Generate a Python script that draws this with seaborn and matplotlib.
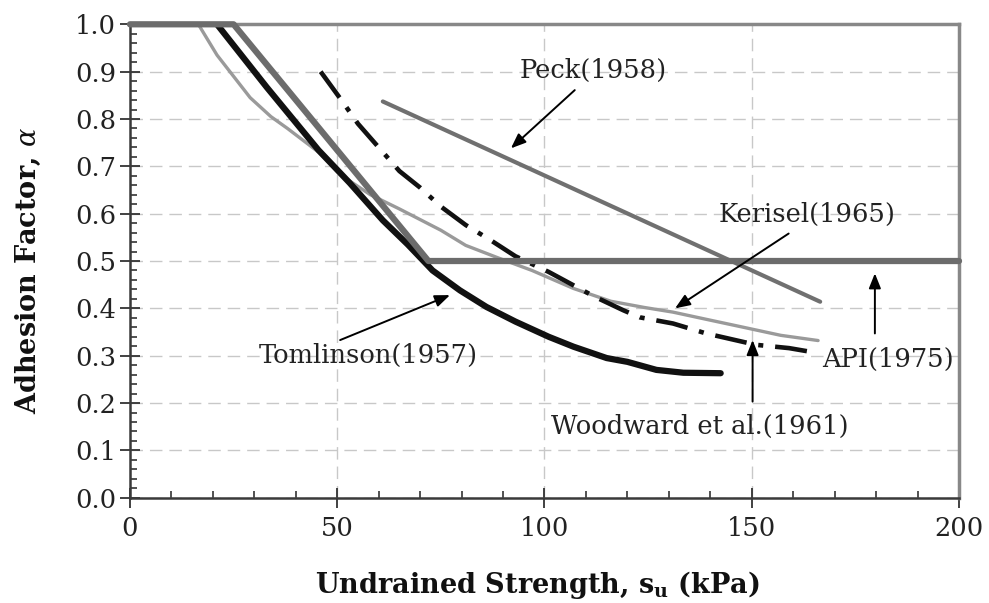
import matplotlib
matplotlib.use("Agg")
import matplotlib.pyplot as plt
import seaborn as sns
from matplotlib.ticker import MultipleLocator

sns.set_theme(style="white")
plt.rcParams['font.family'] = ['DejaVu Serif']
plt.rcParams['mathtext.fontset'] = 'dejavuserif'

# curves (su in kPa, alpha)
api_su = [0, 25, 72, 200]
api_alpha = [1.0, 1.0, 0.5, 0.5]

peck_su = [61, 166.5]
peck_alpha = [0.837, 0.414]

tomlinson_su = [21, 33, 45.5, 53, 61, 67, 73, 79.6, 86, 93, 101, 107, 115, 120, 127, 133.5, 142.5]
tomlinson_alpha = [1.0, 0.867, 0.734, 0.665, 0.586, 0.535, 0.48, 0.438, 0.403, 0.372, 0.34, 0.319, 0.295, 0.287, 0.27, 0.264, 0.263]

kerisel_su = [16.5, 21, 25, 29, 34, 38, 45.5, 52, 58, 65, 75, 81, 89, 97, 107, 116, 124, 131, 140, 148, 157, 166]
kerisel_alpha = [1.0, 0.935, 0.89, 0.845, 0.805, 0.78, 0.73, 0.675, 0.64, 0.61, 0.565, 0.533, 0.506, 0.48, 0.442, 0.415, 0.402, 0.392, 0.375, 0.36, 0.343, 0.332]

woodward_su = [46, 51, 55, 60, 65, 70, 75, 81, 87, 93, 101, 112, 119, 123, 131, 139, 145, 151, 159, 165]
woodward_alpha = [0.9, 0.84, 0.79, 0.74, 0.69, 0.655, 0.615, 0.576, 0.544, 0.51, 0.477, 0.425, 0.396, 0.381, 0.368, 0.347, 0.335, 0.323, 0.316, 0.307]

fig = plt.figure(figsize=(9.89, 6.03), dpi=100)
ax = fig.add_axes([0.1314, 0.1746, 0.8383, 0.7851])

ax.grid(True, which='major', color='#c8c8c8', lw=1, linestyle=(0, (9, 5)))
ax.set_axisbelow(True)

sns.lineplot(x=kerisel_su, y=kerisel_alpha, ax=ax, color='#9a9a9a', lw=2.4,
             estimator=None, sort=False, zorder=3)
sns.lineplot(x=woodward_su, y=woodward_alpha, ax=ax, color='#111111', lw=3.3,
             estimator=None, sort=False, zorder=3,
             linestyle=(0, (7, 2.6, 1.1, 2.6)))
sns.lineplot(x=tomlinson_su, y=tomlinson_alpha, ax=ax, color='#111111', lw=4.5,
             estimator=None, sort=False, zorder=4)
sns.lineplot(x=peck_su, y=peck_alpha, ax=ax, color='#707070', lw=3,
             estimator=None, sort=False, zorder=4)
sns.lineplot(x=api_su, y=api_alpha, ax=ax, color='#6c6c6c', lw=4.5,
             estimator=None, sort=False, zorder=5, clip_on=False)

ax.set_xlim(0, 200)
ax.set_ylim(0, 1.0)
ax.set_xticks([0, 50, 100, 150, 200])
ax.xaxis.set_minor_locator(MultipleLocator(10))
ax.yaxis.set_major_locator(MultipleLocator(0.1))
ax.yaxis.set_minor_locator(MultipleLocator(0.02))

ax.tick_params(which='major', direction='inout', length=14, width=1.3,
               color='#333333', labelsize=18.5, labelcolor='#222222')
ax.tick_params(which='minor', direction='in', length=5, width=1.2, color='#333333')
ax.tick_params(axis='x', which='major', pad=6, bottom=True)
ax.tick_params(axis='x', which='minor', bottom=True)
ax.tick_params(axis='y', which='major', pad=3, left=True)
ax.tick_params(axis='y', which='minor', left=True)

for side in ['left', 'bottom']:
    ax.spines[side].set_color('#3a3a3a')
    ax.spines[side].set_linewidth(1.8)
for side in ['top', 'right']:
    ax.spines[side].set_color('#888888')
    ax.spines[side].set_linewidth(2.5)

ax.set_xlabel(r'Undrained Strength, $\mathbf{s_u}$ (kPa)', fontsize=19.5,
              fontweight='bold', color='#111111', va='top')
ax.xaxis.set_label_coords(0.492, -0.15)
ax.set_ylabel(r'Adhesion Factor, $\alpha$', fontsize=19.5,
              fontweight='bold', color='#111111')
ax.yaxis.set_label_coords(-0.105, 0.48)

arrow = dict(arrowstyle='-|>,head_length=0.45,head_width=0.18', color='black',
             lw=1.4, mutation_scale=20, shrinkA=0, shrinkB=0)
labels = [
    ('Peck(1958)', (111.7, 0.903), (107.3, 0.861), (91.9, 0.738)),
    ('Kerisel(1965)', (163.3, 0.599), (158.9, 0.558), (131.5, 0.40)),
    ('Tomlinson(1957)', (57.5, 0.301), (50.7, 0.333), (77.2, 0.428)),
    ('Woodward et al.(1961)', (137.4, 0.151), (150.2, 0.203), (150.2, 0.333)),
    ('API(1975)', (182.9, 0.292), (179.7, 0.347), (179.7, 0.474)),
]
for text, pos, tail, head in labels:
    ax.text(pos[0], pos[1], text, fontsize=18.5, ha='center', va='center',
            color='#222222', zorder=7)
    ax.annotate('', xy=head, xytext=tail, arrowprops=arrow, zorder=6)

fig.savefig('out.png', dpi=100)
